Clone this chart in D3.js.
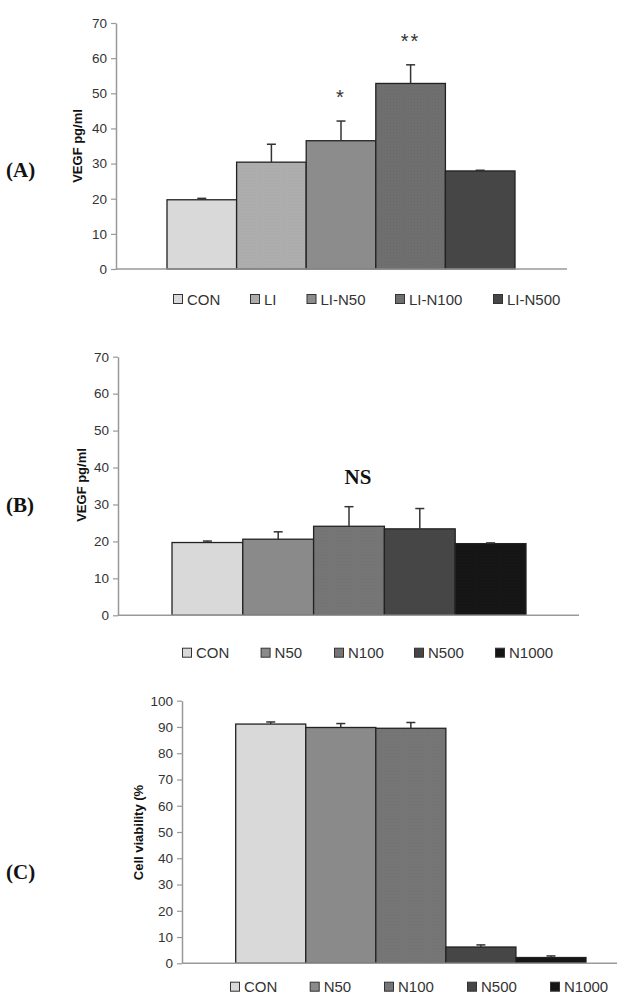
<!DOCTYPE html>
<html>
<head>
<meta charset="utf-8">
<script src="https://cdn.jsdelivr.net/npm/d3@7"></script>
<style>
  body { margin: 0; background: #fff; }
  svg { display: block; }
</style>
</head>
<body>
<div class="visualisation"></div>
<script>
// (A) VEGF after LI with nanoparticles
const groupsA = ["CON", "LI", "LI-N50", "LI-N100", "LI-N500"];
const meansA = [19.7, 30.4, 36.5, 52.8, 27.9];
const errorsA = [0.4, 5.1, 5.6, 5.3, 0.2];
const marksA = ["", "", "*", "**", ""];

// (B) VEGF with nanoparticles only
const groupsB = ["CON", "N50", "N100", "N500", "N1000"];
const meansB = [19.7, 20.6, 24.1, 23.4, 19.4];
const errorsB = [0.4, 2.0, 5.3, 5.5, 0.2];

// (C) cell viability
const groupsC = ["CON", "N50", "N100", "N500", "N1000"];
const meansC = [91.1, 89.8, 89.5, 6.2, 2.2];
const errorsC = [0.8, 1.5, 2.2, 0.8, 0.6];

const ticksVEGF = [0, 10, 20, 30, 40, 50, 60, 70];
const ticksViability = [0, 10, 20, 30, 40, 50, 60, 70, 80, 90, 100];

const width = 631;
const height = 1006;
const sans = "'Liberation Sans', Arial, sans-serif";
const serif = "'Liberation Serif', 'Times New Roman', serif";

const svg = d3
  .select(".visualisation")
  .append("svg")
  .attr("width", width)
  .attr("height", height)
  .attr("viewBox", `0 0 ${width} ${height}`);

// faint dotted textures like the old excel fills
const defs = svg.append("defs");
function addPattern(id, base, dot) {
  const p = defs
    .append("pattern")
    .attr("id", id)
    .attr("patternUnits", "userSpaceOnUse")
    .attr("width", 3)
    .attr("height", 3);
  p.append("rect").attr("width", 3).attr("height", 3).attr("fill", base);
  p.append("rect").attr("width", 1).attr("height", 1).attr("fill", dot);
  p.append("rect").attr("x", 1.5).attr("y", 1.5).attr("width", 1).attr("height", 1).attr("fill", dot);
}
addPattern("patLI", "#afafaf", "#a5a5a5");
addPattern("patLIN100", "#707070", "#676767");
addPattern("patN100", "#777777", "#6f6f6f");
addPattern("patN1000", "#131313", "#1d1d1d");

const panels = [
  {
    tag: "(A)", tagY: 177,
    groups: groupsA, means: meansA, errors: errorsA, marks: marksA,
    fills: ["#d9d9d9", "url(#patLI)", "#8c8c8c", "url(#patLIN100)", "#464646"],
    axisX: [116, 567], barX: [167, 515], yRange: [269, 23], yMax: 70, ticks: ticksVEGF,
    title: "VEGF pg/ml", titleX: 77, titleY: 146,
    legendY: 299, legendX: [173, 250, 306.5, 395, 493]
  },
  {
    tag: "(B)", tagY: 512,
    groups: groupsB, means: meansB, errors: errorsB, marks: null,
    fills: ["#d9d9d9", "#8a8a8a", "url(#patN100)", "#464646", "url(#patN1000)"],
    axisX: [118, 579], barX: [172, 526], yRange: [615.3, 356.7], yMax: 70, ticks: ticksVEGF,
    title: "VEGF pg/ml", titleX: 81.5, titleY: 485,
    legendY: 652.7, legendX: [182, 260.6, 334, 414, 495],
    note: "NS", noteX: 358, noteY: 484
  },
  {
    tag: "(C)", tagY: 879,
    groups: groupsC, means: meansC, errors: errorsC, marks: null,
    fills: ["#d9d9d9", "#8a8a8a", "url(#patN100)", "#464646", "url(#patN1000)"],
    axisX: [182, 617], barX: [235.7, 586], yRange: [963.3, 700.7], yMax: 100, ticks: ticksViability,
    title: "Cell viability (%", titleX: 138.4, titleY: 832.5,
    legendY: 986.7, legendX: [230, 309.7, 384, 467, 550]
  }
];

panels.forEach(drawPanel);

function drawPanel(p) {
  const g = svg.append("g");

  const x = d3.scaleBand().domain(p.groups).range(p.barX).padding(0);
  const y = d3.scaleLinear().domain([0, p.yMax]).range(p.yRange);

  // y axis
  const yAxis = g
    .append("g")
    .attr("transform", `translate(${p.axisX[0]},0)`)
    .call(d3.axisLeft(y).tickValues(p.ticks).tickSize(5).tickPadding(4).tickSizeOuter(0));
  yAxis.select(".domain").attr("stroke", "#999").attr("stroke-width", 1.5);
  yAxis.selectAll(".tick line").attr("stroke", "#999").attr("stroke-width", 1.2);
  yAxis
    .selectAll(".tick text")
    .attr("fill", "#333")
    .style("font-family", sans)
    .style("font-size", "13.5px");

  // bars
  g.append("g")
    .selectAll("rect")
    .data(p.groups)
    .enter()
    .append("rect")
    .attr("x", d => x(d))
    .attr("y", (d, i) => y(p.means[i]))
    .attr("width", x.bandwidth())
    .attr("height", (d, i) => y(0) - y(p.means[i]))
    .attr("fill", (d, i) => p.fills[i])
    .attr("stroke", "#222")
    .attr("stroke-width", 1.3);

  // error bars (upper only)
  const err = g.append("g").attr("stroke", "#333").attr("stroke-width", 1.5);
  p.groups.forEach(function(d, i) {
    const cx = x(d) + x.bandwidth() / 2;
    const top = y(p.means[i] + p.errors[i]);
    err.append("line")
      .attr("x1", cx).attr("x2", cx)
      .attr("y1", y(p.means[i])).attr("y2", top);
    err.append("line")
      .attr("x1", cx - 4.5).attr("x2", cx + 4.5)
      .attr("y1", top).attr("y2", top);
  });

  // x axis line
  g.append("line")
    .attr("x1", p.axisX[0]).attr("x2", p.axisX[1])
    .attr("y1", y(0)).attr("y2", y(0))
    .attr("stroke", "#999")
    .attr("stroke-width", 1.5);

  // significance marks
  if (p.marks) {
    g.append("g")
      .selectAll("text")
      .data(p.groups)
      .enter()
      .append("text")
      .attr("x", d => x(d) + x.bandwidth() / 2)
      .attr("y", (d, i) => y(p.means[i] + p.errors[i]) - 17)
      .attr("text-anchor", "middle")
      .attr("fill", "#333")
      .style("font-family", sans)
      .style("font-size", "20px")
      .style("letter-spacing", "2px")
      .text((d, i) => p.marks[i]);
  }
  if (p.note) {
    g.append("text")
      .attr("x", p.noteX)
      .attr("y", p.noteY)
      .attr("text-anchor", "middle")
      .attr("fill", "#111")
      .style("font-family", serif)
      .style("font-weight", "bold")
      .style("font-size", "21px")
      .text(p.note);
  }

  // y title
  g.append("text")
    .attr("transform", `translate(${p.titleX + 4.5},${p.titleY}) rotate(-90)`)
    .attr("text-anchor", "middle")
    .attr("fill", "#111")
    .style("font-family", sans)
    .style("font-weight", "bold")
    .style("font-size", "13px")
    .text(p.title);

  // panel tag
  g.append("text")
    .attr("x", 6)
    .attr("y", p.tagY)
    .attr("fill", "#111")
    .style("font-family", serif)
    .style("font-weight", "bold")
    .style("font-size", "21px")
    .text(p.tag);

  // legend
  const legend = g
    .append("g")
    .selectAll("g")
    .data(p.groups)
    .enter()
    .append("g")
    .attr("transform", (d, i) => `translate(${p.legendX[i]},${p.legendY})`);
  legend.append("rect")
    .attr("x", 0.5).attr("y", -4.5)
    .attr("width", 9).attr("height", 9)
    .attr("fill", (d, i) => p.fills[i])
    .attr("stroke", "#333")
    .attr("stroke-width", 1);
  legend.append("text")
    .attr("x", 14)
    .attr("y", 5.5)
    .attr("fill", "#333")
    .style("font-family", sans)
    .style("font-size", "15px")
    .text(d => d);
}
</script>
</body>
</html>
